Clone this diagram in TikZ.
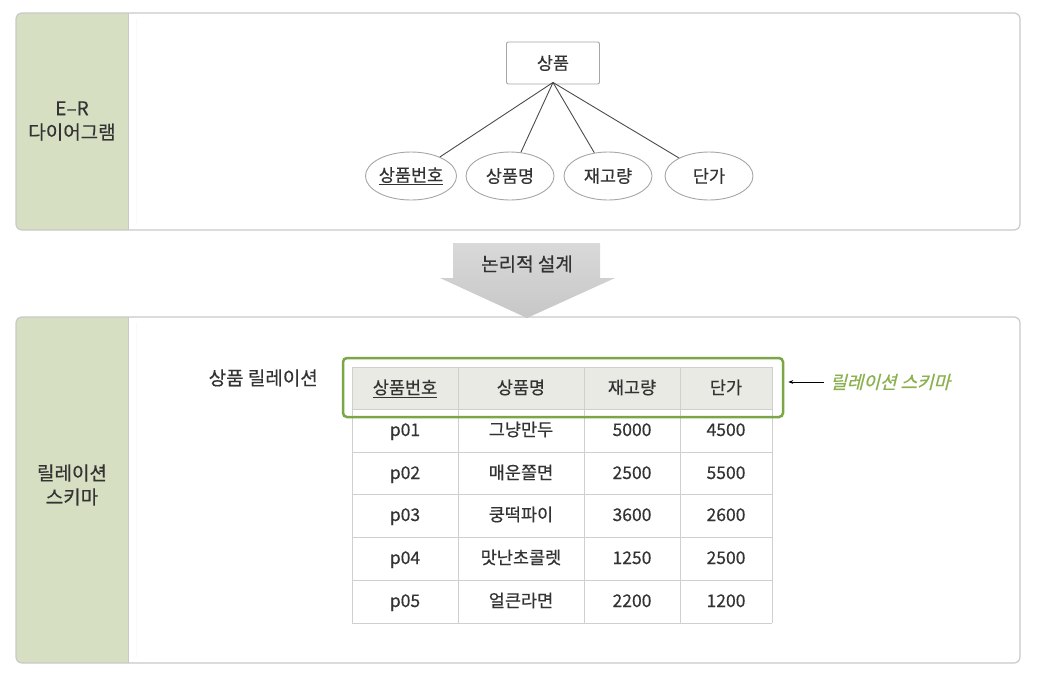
\documentclass[tikz,border=0pt]{standalone}
\usepackage{fontspec}
\setmainfont{Noto Sans CJK KR}[FakeBold=0.4]
\newfontfamily\handfont[FakeSlant=0.25,FakeBold=0.6]{Noto Sans CJK KR}
\usepackage{xcolor}
\usepackage{tikz}
\usetikzlibrary{shapes.geometric, arrows.meta, positioning, calc}

\definecolor{stripgreen}{HTML}{D6DFC2}
\definecolor{panelline}{HTML}{C9C9C9}
\definecolor{schemagreen}{HTML}{7CA545}
\definecolor{handgreen}{HTML}{8BB04E}
\definecolor{headfill}{HTML}{E9EAE4}
\definecolor{cellline}{HTML}{CFCFCF}
\definecolor{txt}{HTML}{333333}

\begin{document}
\begin{tikzpicture}[
    x=1pt, y=-1pt,
    txtnode/.style={text=txt, inner sep=0pt, text height=13pt, text depth=3pt, font=\fontsize{17.5}{20}\selectfont},
    sidelbl/.style={text=txt, align=center, font=\fontsize{19}{24}\selectfont},
    entitybox/.style={draw=gray!70, line width=0.9, rounded corners=2, minimum width=93, minimum height=42, text=txt, font=\fontsize{17.5}{20}\selectfont},
    attrnode/.style={ellipse, draw=gray!70, line width=0.9, minimum width=88, minimum height=48, inner sep=0pt, text=txt, font=\fontsize{17.5}{20}\selectfont},
    link/.style={draw=gray!60!black, line width=0.9}
]
\useasboundingbox (0,0) rectangle (1043,694);

% panels
\foreach \top/\bot in {13/230, 317/663} {
    \fill[white, rounded corners=6] (16,\top) rectangle (1020,\bot);
    \fill[stripgreen, rounded corners=6] (16,\top) rectangle (136,\bot);
    \fill[white] (128,\top) rectangle (136,\bot);
    \draw[panelline, line width=0.8] (128,\top) -- (128,\bot);
    \draw[panelline, line width=1.2, rounded corners=6] (16,\top) rectangle (1020,\bot);
}

\node[sidelbl] (erlbl) at (72,121) {E--R\\다이어그램};
\node[sidelbl] (rellbl) at (72,485) {릴레이션\\스키마};

% E-R diagram
\node[entitybox] (ent) at (553,63) {상품};
\node[attrnode] (at1) at (411,176) {\underline{상품번호}};
\node[attrnode] (at2) at (510,176) {상품명};
\node[attrnode] (at3) at (608,176) {재고량};
\node[attrnode] (at4) at (709,176) {단가};
\foreach \a in {at1,at2,at3,at4} {
    \draw[link] ([yshift=2]ent.south) -- (\a);
}

% block arrow
\shade[top color=black!15, bottom color=black!22] (453,243) -- (600,243) -- (600,278) -- (615,278) -- (527,318) -- (440,278) -- (453,278) -- cycle;
\node[txtnode, font=\fontsize{19}{22}\selectfont] (design) at (527,266) {논리적 설계};

% relation
\node[txtnode, anchor=east, font=\fontsize{19}{22}\selectfont] (relname) at (318,380) {상품 릴레이션};

\fill[headfill] (352,367) rectangle (772,409);
\foreach \y in {367,409,452,494,537,580,623} {
    \draw[cellline, line width=0.8] (352,\y) -- (772,\y);
}
\foreach \x in {352,458,584,680,772} {
    \draw[cellline, line width=0.8] (\x,367) -- (\x,623);
}

\node[txtnode] (h1) at (405,389) {\underline{상품번호}};
\node[txtnode] (h2) at (521,389) {상품명};
\node[txtnode] (h3) at (632,389) {재고량};
\node[txtnode] (h4) at (726,389) {단가};

\foreach \y/\a/\b/\c/\d in {431/p01/그냥만두/5000/4500,
                            474/p02/매운쫄면/2500/5500,
                            516/p03/쿵떡파이/3600/2600,
                            559/p04/맛난초콜렛/1250/2500,
                            602/p05/얼큰라면/2200/1200} {
    \node[txtnode] (id\a) at (405,\y) {\a};
    \node[txtnode] (nm\a) at (521,\y) {\b};
    \node[txtnode] (st\a) at (632,\y) {\c};
    \node[txtnode] (pr\a) at (726,\y) {\d};
}

% schema highlight
\node[draw=schemagreen, line width=2.5, rounded corners=4, minimum width=440, minimum height=59, inner sep=0pt] (schemabox) at (563,387.5) {};
\node[anchor=west, inner sep=0pt, text=handgreen, font=\handfont\fontsize{18}{21}\selectfont] (schemalbl) at (830,382) {릴레이션 스키마};
\draw[-{Stealth[length=5pt]}, line width=0.8] ([xshift=-6]schemalbl.west) -- ([xshift=4]schemabox.east |- schemalbl.west);

\end{tikzpicture}
\end{document}
